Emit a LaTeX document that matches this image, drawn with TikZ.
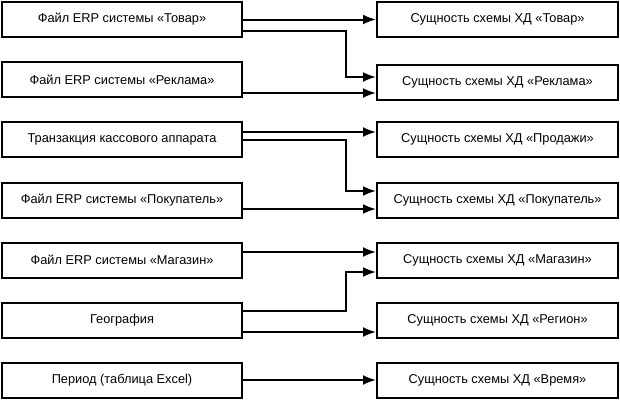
\documentclass[tikz,border=0pt]{standalone}
\usepackage{fontspec}
\setmainfont{Liberation Sans}
\usetikzlibrary{arrows.meta}
\begin{document}
\begin{tikzpicture}[
  x=1pt, y=1pt,
  src/.style={draw, line width=2pt, minimum width=240pt, minimum height=35pt,
    inner sep=0pt, font=\fontsize{12.8}{14}\selectfont},
  ent/.style={src, minimum width=241pt},
  e/.style={line width=2pt, -{Latex[length=13pt, width=10pt]}}
]
\useasboundingbox (0,0) rectangle (620,-400);

% source files
\node[src] (l1) at (122,-19.5) {Файл ERP системы «Товар»};
\node[src] (l2) at (122,-79.5) {Файл ERP системы «Реклама»};
\node[src] (l3) at (122,-139.5) {Транзакция кассового аппарата};
\node[src] (l4) at (122,-200) {Файл ERP системы «Покупатель»};
\node[src] (l5) at (122,-260) {Файл ERP системы «Магазин»};
\node[src] (l6) at (122,-320) {География};
\node[src] (l7) at (122,-380) {Период (таблица Excel)};

% entities of the DW scheme
\node[ent] (r1) at (497.5,-19.5) {Сущность схемы ХД «Товар»};
\node[ent] (r2) at (497.5,-82) {Сущность схемы ХД «Реклама»};
\node[ent] (r3) at (497.5,-139.5) {Сущность схемы ХД «Продажи»};
\node[ent] (r4) at (497.5,-200.5) {Сущность схемы ХД «Покупатель»};
\node[ent] (r5) at (497.5,-260) {Сущность схемы ХД «Магазин»};
\node[ent] (r6) at (497.5,-320) {Сущность схемы ХД «Регион»};
\node[ent] (r7) at (497.5,-380) {Сущность схемы ХД «Время»};

% flows
\draw[e] (l1.east) -- (r1.west);
\draw[e] ([yshift=-11.5pt]l1.east) -| ([xshift=-30pt,yshift=5pt]r2.west) -- ([yshift=5pt]r2.west);
\draw[e] ([yshift=-13.5pt]l2.east) -- ([yshift=-13.5pt]l2.east -| r2.west);
\draw[e] ([yshift=7.5pt]l3.east) -- ([yshift=7.5pt]l3.east -| r3.west);
\draw[e] (l3.east) -| ([xshift=-30pt,yshift=9.5pt]r4.west) -- ([yshift=9.5pt]r4.west);
\draw[e] ([yshift=-9pt]l4.east) -- ([yshift=-9pt]l4.east -| r4.west);
\draw[e] ([yshift=8pt]l5.east) -- ([yshift=8pt]l5.east -| r5.west);
\draw[e] ([yshift=9pt]l6.east) -| ([xshift=-30pt,yshift=-12pt]r5.west) -- ([yshift=-12pt]r5.west);
\draw[e] ([yshift=-12pt]l6.east) -- ([yshift=-12pt]l6.east -| r6.west);
\draw[e] (l7.east) -- (r7.west);
\end{tikzpicture}
\end{document}
